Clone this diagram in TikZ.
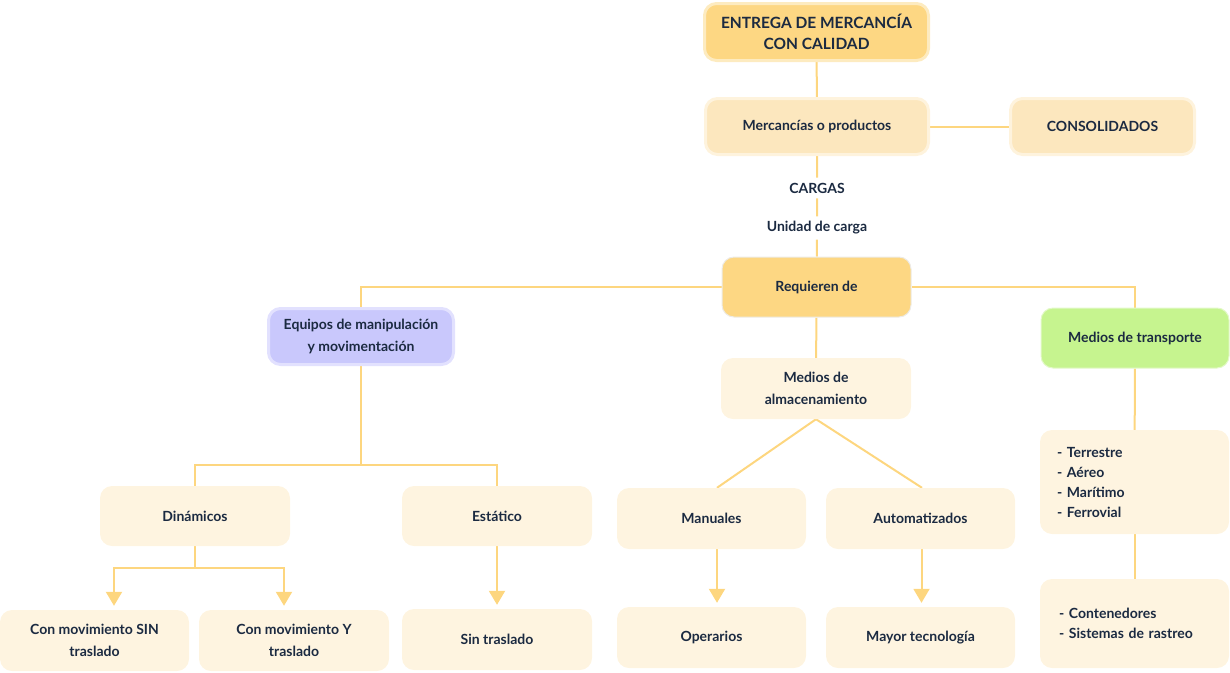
\documentclass[tikz,border=0pt]{standalone}
\usepackage{fontspec}
\setmainfont{Lato}
\usetikzlibrary{arrows.meta,backgrounds}
\definecolor{txt}{HTML}{1B2A41}
\definecolor{gold}{HTML}{FDD783}
\definecolor{goldb}{HTML}{FDEBC0}
\definecolor{mer}{HTML}{FCE7BE}
\definecolor{merb}{HTML}{FEF3DD}
\definecolor{pale}{HTML}{FEF4E0}
\definecolor{lav}{HTML}{C9C8FC}
\definecolor{lavb}{HTML}{E2E1FE}
\definecolor{grn}{HTML}{C6F48F}
\definecolor{grnb}{HTML}{E3F9C8}
\definecolor{reqb}{HTML}{EDEBE6}
\definecolor{ln}{HTML}{FDD67F}
\begin{document}
\begin{tikzpicture}[x=1pt,y=-1pt,
  base/.style={rounded corners=12pt, align=center, text=txt, inner sep=0pt,
    font=\fontsize{14}{22}\selectfont\bfseries},
  box/.style 2 args={base, minimum width=#1, minimum height=#2},
  titlebox/.style={fill=gold, draw=goldb, line width=3pt},
  merbox/.style={fill=mer, draw=merb, line width=3pt},
  palebox/.style={fill=pale},
  lavbox/.style={fill=lav, draw=lavb, line width=3pt},
  grnbox/.style={fill=grn, draw=grnb, line width=1pt},
  reqbox/.style={fill=gold, draw=reqb, line width=1pt},
  lbl/.style={text=txt, inner sep=5pt, font=\fontsize{14}{16}\selectfont\bfseries},
  listbox/.style={palebox, rounded corners=12pt, text=txt, align=left,
    font=\fontsize{14}{20}\selectfont\bfseries, inner ysep=0pt},
  conn/.style={draw=ln, line width=2pt},
  arr/.style={conn, -{Triangle[width=16pt,length=14pt]}, shorten >=4pt}
]
\useasboundingbox (0,0) rectangle (1230,672);

\node[box={224}{57}, titlebox, font=\fontsize{15.5}{21}\selectfont\bfseries] (title) at (816.5,32) {ENTREGA DE MERCANCÍA\\CON CALIDAD};
\node[box={223}{56}, merbox] (merc) at (817,126.5) {Mercancías o productos};
\node[box={184}{56}, merbox] (cons) at (1102.5,126.5) {CONSOLIDADOS};
\node[lbl] (cargas) at (817,188) {CARGAS};
\node[lbl] (unid) at (817,228) {Unidad de carga};
\node[box={189}{60}, reqbox] (req) at (816.5,287) {Requieren de};
\node[box={185}{56}, lavbox] (equ) at (361,336.5) {Equipos de manipulación\\y movimentación};
\node[box={188}{60}, grnbox] (trans) at (1135,338) {Medios de transporte};
\node[box={190}{61}, palebox] (alm) at (816,388.5) {Medios de\\almacenamiento};
\node[box={189}{61}, palebox] (man) at (711.5,518.5) {Manuales};
\node[box={189}{61}, palebox] (aut) at (920.5,518.5) {Automatizados};
\node[box={189}{61}, palebox] (ope) at (711.5,637.5) {Operarios};
\node[box={189}{61}, palebox] (may) at (920.5,637.5) {Mayor tecnología};
\node[box={190}{60}, palebox] (din) at (195,516) {Dinámicos};
\node[box={190}{60}, palebox] (est) at (497,516) {Estático};
\node[box={189}{61}, palebox] (c1) at (94.5,640.5) {Con movimiento SIN\\traslado};
\node[box={190}{61}, palebox] (c2) at (294,640.5) {Con movimiento Y\\traslado};
\node[box={190}{61}, palebox] (sint) at (497,639.5) {Sin traslado};
\node[listbox, minimum height=104pt, inner xsep=17pt, text width=155pt] (list1) at (1134.5,482) {- Terrestre\\- Aéreo\\- Marítimo\\- Ferrovial};
\node[listbox, minimum height=89pt, inner xsep=19pt, text width=151pt] (list2) at (1134.5,623.5) {- Contenedores\\- Sistemas de rastreo};

\coordinate (eqj) at (361,465);
\coordinate (dj) at (195,568);

\begin{pgfonlayer}{background}
\draw[conn] (title) -- (merc);
\draw[conn] (merc) -- (cons);
\draw[conn] (merc) -- (cargas) -- (unid) -- (req);
\draw[conn] (req.west) -| (equ.north);
\draw[conn] (req.east) -| (trans.north);
\draw[conn] (req) -- (alm);
\draw[conn] (alm.south) -- ([xshift=5.5pt]man.north);
\draw[conn] (alm.south) -- ([xshift=1.5pt]aut.north);
\draw[arr] ([xshift=5.5pt]man.south) -- ([xshift=5.5pt]ope.north);
\draw[arr] ([xshift=1pt]aut.south) -- ([xshift=1pt]may.north);
\draw[conn] (equ) -- (eqj);
\draw[conn] (din.north) |- (eqj) -| (est.north);
\draw[conn] (din) -- (dj);
\draw[arr] (dj) -| ([xshift=19.5pt]c1.north);
\draw[arr] (dj) -| ([xshift=-10pt]c2.north);
\draw[arr] (est) -- (sint);
\draw[conn] (trans) -- (list1);
\draw[conn] (list1) -- (list2);
\end{pgfonlayer}
\end{tikzpicture}
\end{document}
